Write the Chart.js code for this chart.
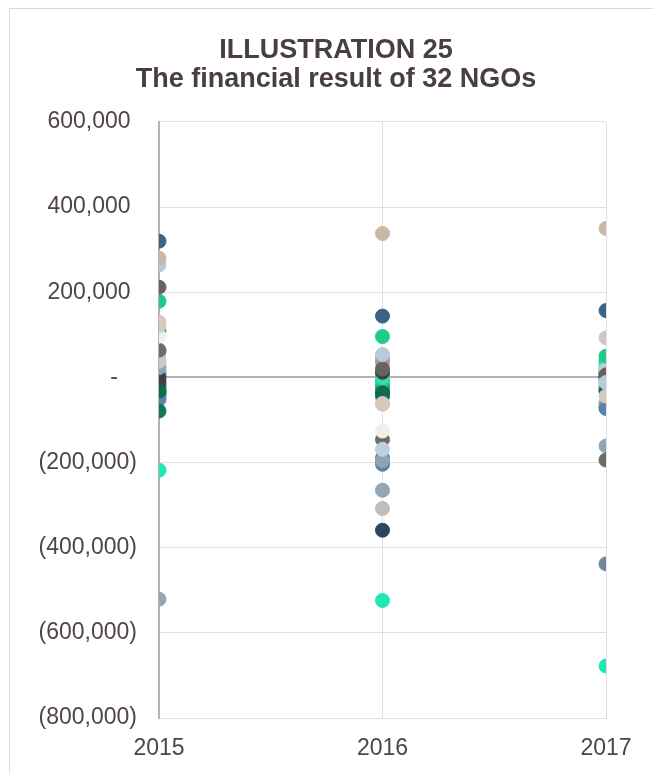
<!DOCTYPE html>
<html>
<head>
<meta charset="utf-8">
<script src="https://cdn.jsdelivr.net/npm/chart.js@4"></script>
<style>
  body { margin: 0; background: #fff; overflow: hidden; }
  #frame { position: absolute; left: 9px; top: 8px; width: 700px; height: 800px; border: 1px solid #d9d9d9; }
  #wrap { position: absolute; left: 0; top: 0; width: 653px; height: 773px; }
</style>
</head>
<body>
<div id="frame"></div>
<div id="wrap"><canvas id="myChart" width="653" height="773"></canvas></div>
<script>
// one entry per NGO, same order in every array
const years = [2015, 2016, 2017];
const colours = [
  '#3d6285', '#c9b8a4', '#b8cad8', '#6a6260', '#1ecb8d', '#d6c9ba', '#c0d0dc', '#f1f1ea',
  '#6b6e66', '#cbc8c6', '#8fa4b5', '#20e8b1', '#3e403c', '#0f6b49', '#5b82ab', '#117857',
  '#93a6b4', '#2c465f', '#2de2b2', '#c2bbb8', '#6f879a', '#29c48b', '#a39a97', '#4a76a0',
  '#c6d3dc', '#7a7470', '#18a878', '#b3aeaa', '#e5e0d6', '#557a99', '#0d5c3f', '#9db0bd'
];
const result2015 = [
  320000, 280000, 264000, 212000, 179000, 130000, 122000, 97000,
  64000, 38000, 23000, -218000, 0, -32000, -44000, -79000,
  -521000, -12000, 15000, 42000, -52000, 109000, 60000, -40000,
  5000, 10000, -20000, -5000, 30000, -25000, -35000, 8000
];
const result2016 = [
  144000, 338000, 54000, 20000, 96000, -63000, -169000, -126000,
  -146000, -61000, -195000, -524000, 12000, -36000, -204000, -44000,
  -265000, -359000, 0, -308000, -199000, -8000, 38000, -190000,
  30000, 5000, -20000, 45000, -50000, -30000, -40000, -5000
];
const result2017 = [
  157000, 350000, -12000, 6000, 50000, -44000, 18000, -8000,
  -194000, 93000, -161000, -678000, 2000, -31000, -73000, 12000,
  -62000, -5000, 27000, -60000, -438000, 38000, -20000, -70000,
  -15000, -10000, 20000, -25000, 15000, -30000, 0, 10000
];

const textColor = '#4f444b';
const gridColor = '#e3dee1';
const axisColor = '#bcaeb6';

const fmt = (v) => Math.abs(v).toLocaleString('en-US');

const datasets = colours.map((c, i) => ({
  label: 'NGO ' + (i + 1),
  data: [
    { x: years[0], y: result2015[i] },
    { x: years[1], y: result2016[i] },
    { x: years[2], y: result2017[i] }
  ],
  backgroundColor: c,
  borderColor: c,
  pointRadius: 7,
  pointBorderWidth: 1,
  pointHoverRadius: 7
}));

Chart.defaults.font.family = '"Liberation Sans", Arial, sans-serif';
Chart.defaults.color = textColor;

// the title sits centred over the whole frame, not over the canvas width
const titleShift = {
  id: 'titleShift',
  afterLayout: (chart) => { chart.titleBlock.left = 66; }
};

const ctx = document.getElementById('myChart');
const config = {
  type: 'scatter',
  data: { datasets: datasets },
  plugins: [titleShift],
  options: {
    responsive: false,
    animation: false,
    events: [],
    layout: { padding: { left: 0, right: 47, top: 0, bottom: 10 } },
    plugins: {
      legend: { display: false },
      tooltip: { enabled: false },
      title: {
        display: true,
        text: ['ILLUSTRATION 25', 'The financial result of 32 NGOs'],
        color: '#4a3e45',
        font: { size: 27, weight: 'bold', lineHeight: 1.074 },
        padding: { top: 36, bottom: 28 }
      }
    },
    scales: {
      x: {
        type: 'linear',
        min: 2015,
        max: 2017,
        afterFit: (s) => { s.height = 45; },
        ticks: {
          stepSize: 1,
          padding: 17,
          color: textColor,
          font: { size: 23 },
          callback: (v) => String(v)
        },
        grid: {
          drawTicks: false,
          color: (c) => (c.tick && c.tick.value === 2015 ? axisColor : gridColor),
          lineWidth: (c) => (c.tick && c.tick.value === 2015 ? 2 : 1)
        },
        border: { color: gridColor, width: 1 }
      },
      y: {
        min: -800000,
        max: 600000,
        afterFit: (s) => { s.width = 159; },
        ticks: {
          stepSize: 200000,
          padding: 22,
          color: textColor,
          font: { size: 23 },
          callback: (v) => (v === 0 ? '-   ' : v < 0 ? '(' + fmt(v) + ')' : fmt(v) + ' ')
        },
        grid: {
          drawTicks: false,
          color: (c) => (c.tick && c.tick.value === 0 ? axisColor : gridColor),
          lineWidth: (c) => (c.tick && c.tick.value === 0 ? 2 : 1)
        },
        border: { color: axisColor, width: 2 }
      }
    }
  }
};

const graph = new Chart(ctx, config);
</script>
</body>
</html>
